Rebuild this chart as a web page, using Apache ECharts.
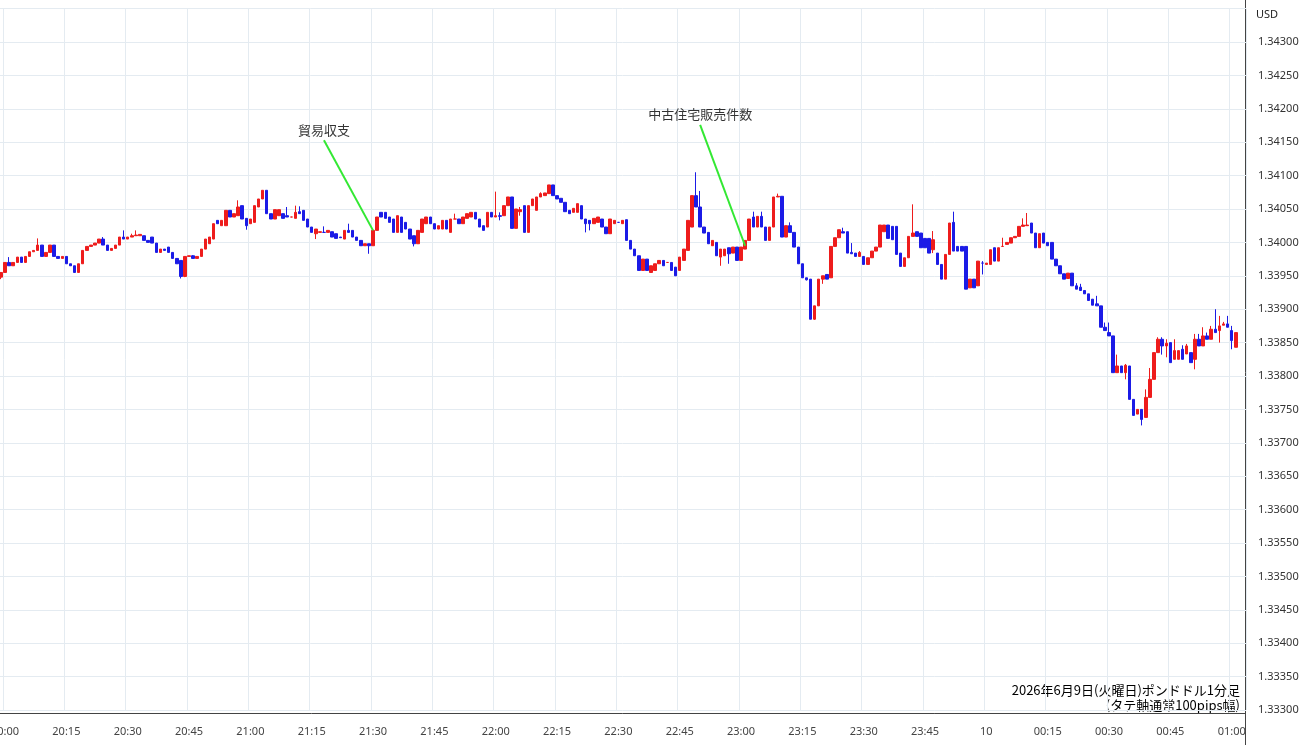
<!DOCTYPE html>
<html>
<head>
<meta charset="utf-8">
<script src="https://cdn.jsdelivr.net/npm/echarts@6/dist/echarts.min.js"></script>
<style>
  html, body { margin: 0; padding: 0; background: #fff; }
  #main { width: 1300px; height: 745px; }
</style>
</head>
<body>
<div id="main"></div>
<script>
// 1分足 [open, close]  19:59 〜 01:01
var candles = [
  [1.33948,1.33955],[1.33955,1.33970],[1.33970,1.33965],[1.33965,1.33970],[1.33970,1.33978],
  [1.33978,1.33970],[1.33970,1.33979],[1.33979,1.33986],[1.33986,1.33988],[1.33988,1.33996],
  [1.33996,1.33979],[1.33979,1.33985],[1.33985,1.33996],[1.33996,1.33979],[1.33979,1.33976],
  [1.33976,1.33979],[1.33979,1.33968],[1.33968,1.33965],[1.33965,1.33955],[1.33955,1.33968],
  [1.33968,1.33988],[1.33988,1.33994],[1.33994,1.33996],[1.33996,1.33999],[1.33999,1.34005],
  [1.34005,1.33996],[1.33996,1.33988],[1.33988,1.33991],[1.33991,1.33996],[1.33996,1.34008],
  [1.34008,1.34005],[1.34005,1.34008],[1.34008,1.34010],[1.34010,1.34011],[1.34010,1.34012],
  [1.34010,1.34003],[1.34003,1.34000],[1.34008,1.33999],[1.33999,1.33985],[1.33985,1.33990],
  [1.33990,1.33988],[1.33993,1.33985],[1.33985,1.33976],[1.33976,1.33968],[1.33973,1.33949],
  [1.33949,1.33979],[1.33979,1.33980],[1.33980,1.33976],[1.33976,1.33979],[1.33979,1.33990],
  [1.33990,1.34005],[1.33998,1.34008],[1.34005,1.34028],[1.34033,1.34028],[1.34025,1.34033],
  [1.34025,1.34048],[1.34048,1.34038],[1.34038,1.34043],[1.34040,1.34053],[1.34055,1.34035],
  [1.34036,1.34025],[1.34028,1.34035],[1.34030,1.34055],[1.34053,1.34065],[1.34065,1.34078],
  [1.34078,1.34043],[1.34043,1.34035],[1.34035,1.34049],[1.34040,1.34049],[1.34043,1.34036],
  [1.34040,1.34038],[1.34038,1.34038],[1.34036,1.34045],[1.34046,1.34043],[1.34048,1.34033],
  [1.34035,1.34023],[1.34023,1.34015],[1.34013,1.34020],[1.34015,1.34016],[1.34015,1.34015],
  [1.34015,1.34018],[1.34016,1.34008],[1.34013,1.34006],[1.34008,1.34007],[1.34005,1.34018],
  [1.34018,1.34015],[1.34018,1.34008],[1.34008,1.34003],[1.34003,1.33995],[1.33995,1.33998],
  [1.33998,1.33995],[1.33995,1.34018],[1.34018,1.34038],[1.34045,1.34038],[1.34045,1.34036],
  [1.34038,1.34030],[1.34035,1.34015],[1.34015,1.34040],[1.34038,1.34015],[1.34030,1.34020],
  [1.34020,1.34005],[1.34010,1.33998],[1.33998,1.34018],[1.34015,1.34035],[1.34028,1.34038],
  [1.34038,1.34028],[1.34028,1.34020],[1.34020,1.34025],[1.34020,1.34033],[1.34033,1.34020],
  [1.34015,1.34035],[1.34035,1.34035],[1.34035,1.34028],[1.34028,1.34038],[1.34036,1.34043],
  [1.34038,1.34045],[1.34045,1.34035],[1.34035,1.34023],[1.34025,1.34018],[1.34023,1.34045],
  [1.34045,1.34038],[1.34038,1.34040],[1.34040,1.34039],[1.34040,1.34055],[1.34055,1.34068],
  [1.34068,1.34021],[1.34021,1.34050],[1.34046,1.34049],[1.34055,1.34015],[1.34015,1.34055],
  [1.34055,1.34065],[1.34048,1.34068],[1.34068,1.34073],[1.34070,1.34074],[1.34073,1.34086],
  [1.34086,1.34070],[1.34070,1.34065],[1.34066,1.34060],[1.34060,1.34046],[1.34048,1.34043],
  [1.34045,1.34051],[1.34045,1.34058],[1.34055,1.34035],[1.34035,1.34028],[1.34033,1.34028],
  [1.34028,1.34036],[1.34030,1.34038],[1.34035,1.34023],[1.34023,1.34013],[1.34013,1.34035],
  [1.34028,1.34033],[1.34030,1.34030],[1.34028,1.34033],[1.34034,1.34003],[1.34003,1.33990],
  [1.33990,1.33980],[1.33980,1.33958],[1.33958,1.33975],[1.33975,1.33958],[1.33955,1.33965],
  [1.33958,1.33968],[1.33968,1.33973],[1.33973,1.33965],[1.33970,1.33970],[1.33970,1.33958],
  [1.33963,1.33950],[1.33958,1.33978],[1.33973,1.33990],[1.33988,1.34033],[1.34023,1.34070],
  [1.34070,1.34053],[1.34053,1.34023],[1.34023,1.34014],[1.34015,1.33998],[1.33995,1.34003],
  [1.34000,1.33980],[1.33978,1.33990],[1.33980,1.33990],[1.33992,1.33983],[1.33984,1.33993],
  [1.33993,1.33973],[1.33973,1.33993],[1.33990,1.34003],[1.34003,1.34035],[1.34038,1.34023],
  [1.34023,1.34039],[1.34039,1.34023],[1.34023,1.34003],[1.34003,1.34023],[1.34023,1.34068],
  [1.34068,1.34069],[1.34069,1.34008],[1.34008,1.34025],[1.34025,1.34015],[1.34015,1.33993],
  [1.33993,1.33968],[1.33968,1.33947],[1.33947,1.33944],[1.33945,1.33885],[1.33885,1.33905],
  [1.33905,1.33945],[1.33945,1.33950],[1.33952,1.33945],[1.33947,1.33994],[1.33994,1.34007],
  [1.34007,1.34019],[1.34016,1.34014],[1.34016,1.33984],[1.33985,1.33983],[1.33984,1.33979],
  [1.33979,1.33985],[1.33979,1.33967],[1.33967,1.33977],[1.33977,1.33987],[1.33987,1.33993],
  [1.33993,1.34026],[1.34016,1.34026],[1.34026,1.34006],[1.34024,1.34004],[1.34024,1.33982],
  [1.33984,1.33964],[1.33964,1.33977],[1.33977,1.34009],[1.34009,1.34014],[1.34016,1.34009],
  [1.34014,1.33992],[1.34006,1.33992],[1.34006,1.33984],[1.33989,1.34004],[1.33984,1.33967],
  [1.33967,1.33945],[1.33945,1.33982],[1.33982,1.34029],[1.34030,1.33987],[1.33994,1.33987],
  [1.33994,1.33987],[1.33994,1.33930],[1.33932,1.33945],[1.33945,1.33932],[1.33935,1.33972],
  [1.33969,1.33969],[1.33967,1.33969],[1.33967,1.33989],[1.33992,1.33972],[1.33972,1.33992],
  [1.33994,1.33994],[1.33997,1.34000],[1.33999,1.34007],[1.34007,1.34009],[1.34009,1.34024],
  [1.34024,1.34026],[1.34025,1.34026],[1.34029,1.34014],[1.34014,1.33992],[1.33992,1.34013],
  [1.34014,1.33999],[1.34000,1.33995],[1.34000,1.33975],[1.33975,1.33965],[1.33965,1.33953],
  [1.33953,1.33945],[1.33946,1.33954],[1.33954,1.33935],[1.33935,1.33930],[1.33933,1.33928],
  [1.33928,1.33923],[1.33923,1.33913],[1.33915,1.33906],[1.33908,1.33905],[1.33905,1.33873],
  [1.33873,1.33868],[1.33865,1.33860],[1.33860,1.33805],[1.33805,1.33815],[1.33815,1.33805],
  [1.33805,1.33816],[1.33815,1.33765],[1.33765,1.33741],[1.33743,1.33750],[1.33750,1.33735],
  [1.33738,1.33768],[1.33768,1.33795],[1.33795,1.33835],[1.33835,1.33855],[1.33855,1.33845],
  [1.33845,1.33849],[1.33850,1.33820],[1.33825,1.33838],[1.33825,1.33838],[1.33840,1.33825],
  [1.33833,1.33845],[1.33835,1.33820],[1.33825,1.33855],[1.33855,1.33845],[1.33845,1.33860],
  [1.33860,1.33855],[1.33855,1.33870],[1.33870,1.33865],[1.33868,1.33875],[1.33876,1.33878],
  [1.33878,1.33873],[1.33868,1.33853],[1.33843,1.33865]
];

// ヒゲ [index, low, high]
var wicks = [
  [0,1.33945,null],[2,null,1.33978],[9,null,1.34006],[25,null,1.34008],[30,null,1.34018],
  [32,null,1.34013],[33,null,1.34018],[44,1.33946,null],[45,1.33948,null],[47,null,1.33981],
  [58,null,1.34063],[60,1.34019,null],[70,null,1.34053],[72,null,1.34055],[73,null,1.34054],
  [77,1.34005,null],[79,null,1.34024],[85,null,1.34028],[90,1.33983,null],[101,1.33994,null],
  [111,null,1.34043],[121,null,1.34076],[122,1.34033,1.34045],[127,1.34040,1.34053],[132,null,1.34075],
  [143,1.34015,null],[144,1.34018,null],[170,null,1.34105],[171,null,1.34077],[176,1.33965,null],
  [178,1.33968,null],[184,null,1.34046],[186,null,1.34046],[190,null,1.34073],[193,null,1.34030],
  [197,1.33943,null],[199,1.33884,null],[201,1.33938,null],[206,null,1.34022],[208,null,1.33999],
  [210,null,1.33987],[223,null,1.34057],[228,1.33984,1.34017],[233,null,1.34046],[240,1.33952,1.33972],
  [245,null,1.34007],[250,null,1.34036],[251,null,1.34044],[263,null,1.33939],[264,null,1.33938],
  [268,null,1.33920],[270,null,1.33880],[271,null,1.33880],[273,null,1.33832],[275,1.33795,1.33818],
  [279,1.33726,null],[280,null,1.33780],[281,null,1.33812],[283,null,1.33858],[284,1.33832,1.33858],
  [285,1.33828,1.33855],[287,null,1.33855],[289,null,1.33846],[290,null,1.33848],[292,1.33810,1.33863],
  [293,null,1.33863],[294,null,1.33873],[295,null,1.33865],[296,null,1.33875],[297,null,1.33900],
  [298,1.33850,1.33890],[299,null,1.33881],[300,null,1.33890],[301,1.33840,1.33875]
];

// 指標発表の注記 [テキスト, テキスト位置index, テキスト価格, 線の終点index, 終点価格]
var notes = [
  ["貿易収支", 79, 1.34153, 91, 1.34018],
  ["中古住宅販売件数", 171, 1.34176, 182, 1.33995]
];

var startMin = 19 * 60 + 59;
var totalBars = 305;

var times = [];
for (var i = 0; i < totalBars; i++) {
  var m = (startMin + i) % 1440;
  times.push(("0" + Math.floor(m / 60)).slice(-2) + ":" + ("0" + (m % 60)).slice(-2));
}

var ohlc = candles.map(function (c) {
  return [c[0], c[1], Math.min(c[0], c[1]), Math.max(c[0], c[1])];
});
wicks.forEach(function (w) {
  var d = ohlc[w[0]];
  if (w[1] != null) d[2] = Math.min(d[2], w[1]);
  if (w[2] != null) d[3] = Math.max(d[3], w[2]);
});

function isQuarter(idx) {
  return (startMin + idx) % 15 === 0;
}

var myChart = echarts.init(document.getElementById("main"));

var noteSeries = [];
notes.forEach(function (n) {
  noteSeries.push({
    type: "line",
    data: [[n[1], n[2]], [n[3], n[4]]],
    symbol: "none",
    silent: true,
    lineStyle: { color: "#33e833", width: 2 },
    z: 5
  });
  noteSeries.push({
    type: "scatter",
    data: [[n[1], n[2]]],
    symbolSize: 0,
    silent: true,
    label: {
      show: true,
      position: "top",
      distance: 4,
      formatter: n[0],
      color: "#000",
      fontSize: 13,
      fontFamily: "Noto Sans CJK JP"
    }
  });
});

var option = {
  animation: false,
  backgroundColor: "#fff",
  grid: { left: -1.1, right: 54, top: 8.6, bottom: 35, containLabel: false, outerBoundsMode: "none" },
  xAxis: {
    type: "category",
    data: times,
    boundaryGap: true,
    axisLine: { show: false },
    axisTick: { show: false },
    axisLabel: {
      interval: function (idx) { return isQuarter(idx); },
      formatter: function (v) { return v === "00:00" ? "10" : v; },
      color: "#444",
      fontSize: 11,
      margin: 16,
      fontFamily: "Noto Sans"
    },
    splitLine: {
      show: true,
      interval: function (idx) { return isQuarter(idx); },
      lineStyle: { color: "#e4ebf1", width: 1 }
    }
  },
  yAxis: {
    type: "value",
    position: "right",
    min: 1.333,
    max: 1.3435,
    interval: 0.0005,
    axisLine: { show: false },
    axisTick: { show: false },
    axisLabel: {
      color: "#333",
      fontSize: 11,
      margin: 12,
      fontFamily: "Noto Sans",
      formatter: function (v) { return v > 1.34301 ? "" : v.toFixed(5); }
    },
    splitLine: { lineStyle: { color: "#e4ebf1", width: 1 } }
  },
  graphic: [
    { type: "line", shape: { x1: 1245.5, y1: 0, x2: 1245.5, y2: 745 }, style: { stroke: "#444", lineWidth: 1 } },
    { type: "line", shape: { x1: 0, y1: 713.5, x2: 1245.5, y2: 713.5 }, style: { stroke: "#444", lineWidth: 1 } },
    { type: "text", left: 1256, top: 9, style: { text: "USD", fill: "#222", font: "11px Noto Sans" } },
    { type: "text", right: 60, top: 684, style: { text: "2026年6月9日(火曜日)ポンドドル1分足", fill: "#000", font: "13px 'Noto Sans CJK JP'", textAlign: "right" } },
    { type: "text", right: 60, top: 699, style: { text: "(タテ軸通常100pips幅)", fill: "#000", font: "13px 'Noto Sans CJK JP'", textAlign: "right" } }
  ],
  series: [
    {
      type: "candlestick",
      data: ohlc,
      barWidth: 3,
      itemStyle: {
        color: "#ee1c1c",
        color0: "#1b1be6",
        borderColor: "#ee1c1c",
        borderColor0: "#1b1be6",
        borderWidth: 1
      }
    }
  ].concat(noteSeries)
};

option && myChart.setOption(option);
</script>
</body>
</html>
